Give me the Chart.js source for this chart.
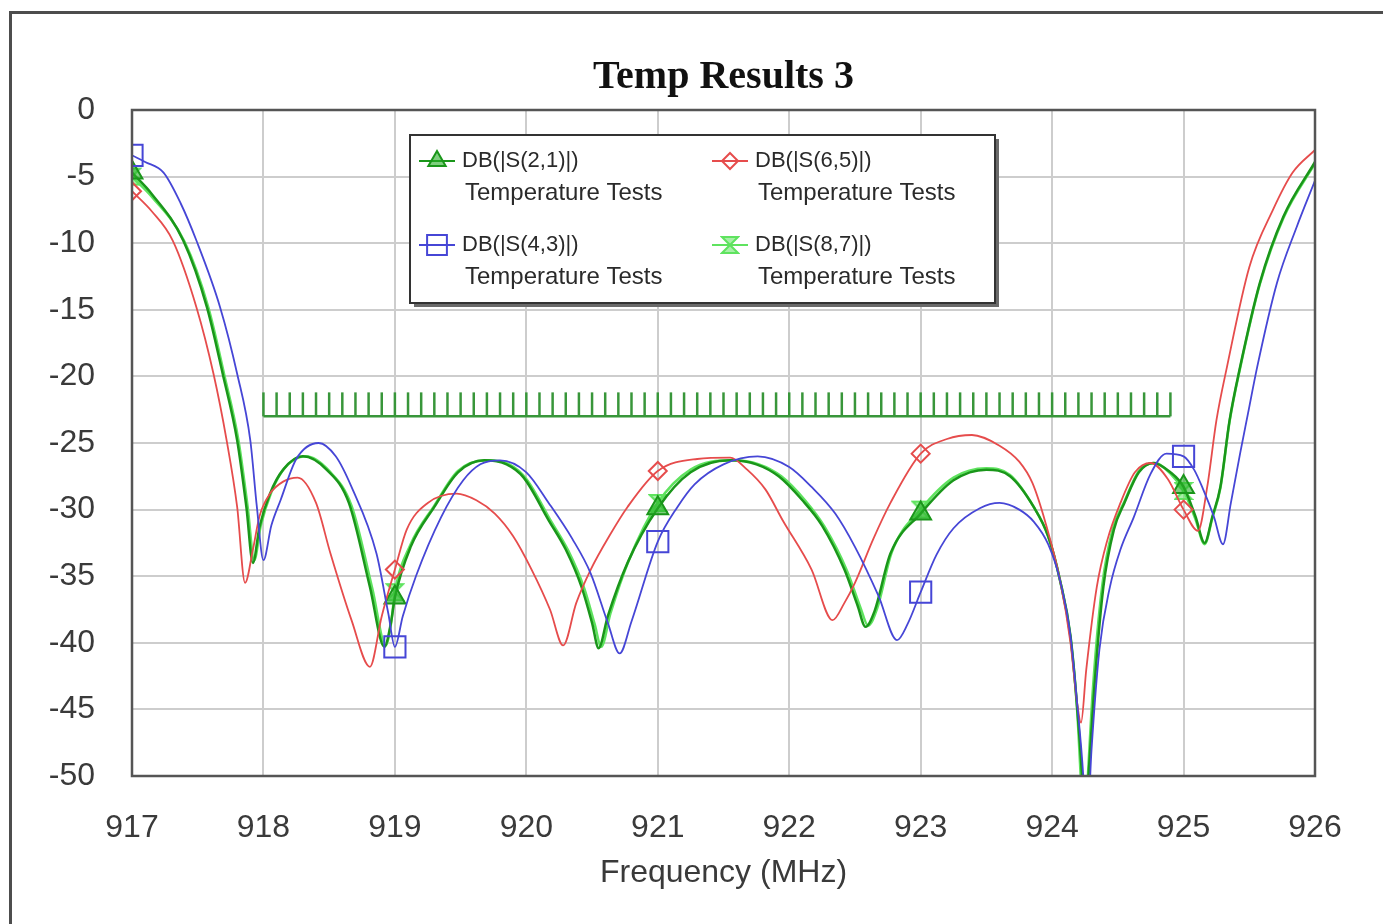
<!DOCTYPE html>
<html>
<head>
<meta charset="utf-8">
<script src="https://cdn.jsdelivr.net/npm/chart.js@4.4.0/dist/chart.umd.min.js"></script>
<style>
html, body { margin: 0; padding: 0; background: #fff; }
#wrap { width: 1383px; height: 924px; position: relative; }
</style>
</head>
<body>
<div id="wrap"><canvas id="tempChart"></canvas></div>
<script>
// frequencies where the measurement markers sit
var markerFreqs = [917, 919, 921, 923, 925];

// DB(|S(2,1)|)
var s21Freq = [917.00, 917.15, 917.39, 917.57, 917.69, 917.80, 917.87, 917.92, 917.97, 918.05, 918.15, 918.30, 918.48, 918.65, 918.81, 918.92, 918.97, 919.00, 919.12, 919.30, 919.48, 919.68, 919.85, 919.98, 920.17, 920.30, 920.42, 920.50, 920.55, 920.62, 920.77, 921.00, 921.25, 921.55, 921.75, 921.92, 922.10, 922.25, 922.42, 922.52, 922.58, 922.65, 922.77, 923.00, 923.25, 923.50, 923.68, 923.86, 923.97, 924.06, 924.14, 924.19, 924.23, 924.25, 924.28, 924.32, 924.39, 924.47, 924.55, 924.66, 924.77, 924.90, 925.00, 925.09, 925.16, 925.22, 925.28, 925.35, 925.43, 925.58, 925.76, 926.00];
var s21Db = [-4.7, -6.3, -9.8, -14.8, -19.8, -24.8, -29.8, -34.0, -31.3, -28.8, -27.0, -26.0, -27.0, -29.5, -35.8, -40.3, -38.5, -36.6, -32.8, -29.8, -27.2, -26.3, -26.6, -27.6, -30.8, -33.0, -35.8, -38.5, -40.4, -38.0, -34.0, -29.9, -27.2, -26.3, -26.6, -27.5, -29.3, -31.2, -34.5, -37.2, -38.8, -37.6, -33.3, -30.3, -27.8, -27.0, -27.5, -29.8, -32.0, -35.3, -39.5, -44.8, -50.5, -55.0, -49.5, -43.5, -35.8, -31.5, -29.5, -27.2, -26.5, -27.2, -28.3, -30.5, -32.5, -30.5, -28.3, -23.3, -19.3, -13.0, -8.0, -3.9];

// DB(|S(6,5)|)
var s65Freq = [917.00, 917.15, 917.31, 917.49, 917.62, 917.72, 917.80, 917.86, 917.92, 917.97, 918.05, 918.15, 918.26, 918.40, 918.51, 918.67, 918.81, 918.90, 919.00, 919.09, 919.25, 919.47, 919.62, 919.76, 919.90, 920.04, 920.18, 920.28, 920.38, 920.49, 920.63, 920.77, 921.00, 921.30, 921.55, 921.68, 921.82, 921.95, 922.17, 922.33, 922.42, 922.50, 922.64, 922.77, 923.00, 923.20, 923.39, 923.60, 923.75, 923.85, 923.95, 924.06, 924.14, 924.19, 924.22, 924.26, 924.34, 924.42, 924.52, 924.63, 924.75, 924.88, 925.00, 925.11, 925.18, 925.25, 925.33, 925.50, 925.68, 925.83, 926.00];
var s65Db = [-6.1, -7.6, -9.8, -14.8, -19.8, -24.8, -29.8, -35.5, -33.0, -30.5, -28.8, -27.9, -27.6, -29.5, -33.3, -38.3, -41.8, -38.0, -34.5, -31.5, -29.5, -28.8, -29.3, -30.3, -32.0, -34.5, -37.5, -40.2, -37.0, -34.5, -32.0, -29.8, -27.1, -26.2, -26.1, -27.0, -28.5, -30.8, -34.5, -38.3, -37.0, -35.5, -32.2, -29.5, -25.8, -24.7, -24.4, -25.2, -26.4, -28.0, -31.0, -35.3, -40.0, -44.5, -46.0, -42.0, -35.8, -32.3, -29.5, -27.2, -26.5, -27.7, -30.0, -31.6, -28.3, -23.3, -19.3, -11.8, -7.5, -4.7, -3.0];

// DB(|S(4,3)|)
var s43Freq = [917.00, 917.10, 917.24, 917.37, 917.49, 917.67, 917.80, 917.90, 917.95, 918.00, 918.06, 918.13, 918.25, 918.42, 918.55, 918.67, 918.86, 918.95, 919.00, 919.06, 919.16, 919.35, 919.52, 919.65, 919.80, 920.00, 920.17, 920.35, 920.49, 920.62, 920.71, 920.80, 921.00, 921.15, 921.28, 921.50, 921.76, 922.00, 922.17, 922.35, 922.50, 922.68, 922.82, 922.90, 923.00, 923.12, 923.25, 923.45, 923.60, 923.75, 923.86, 923.97, 924.06, 924.14, 924.19, 924.24, 924.26, 924.30, 924.36, 924.44, 924.52, 924.62, 924.75, 924.87, 925.00, 925.08, 925.15, 925.23, 925.30, 925.36, 925.43, 925.49, 925.56, 925.71, 925.86, 926.00];
var s43Db = [-3.4, -3.9, -4.7, -7.0, -9.8, -14.8, -19.8, -24.8, -29.8, -33.8, -31.2, -29.3, -26.2, -25.0, -26.0, -28.3, -33.3, -37.8, -40.3, -38.0, -35.0, -30.6, -27.8, -26.6, -26.3, -27.2, -29.5, -32.2, -34.8, -38.5, -40.8, -38.4, -32.4, -29.8, -28.1, -26.6, -26.0, -26.8, -28.3, -30.3, -32.8, -36.5, -39.8, -38.6, -36.2, -33.4, -31.4, -29.9, -29.5, -30.0, -30.9, -32.6, -35.3, -39.5, -44.5, -50.5, -55.0, -48.0, -40.5, -35.8, -33.0, -30.6, -27.3, -25.8, -26.0, -27.0, -28.5, -30.5, -32.6, -29.5, -25.8, -22.8, -19.3, -13.0, -8.8, -5.3];

// DB(|S(8,7)|)
var s87Freq = [917.00, 917.15, 917.40, 917.58, 917.70, 917.81, 917.88, 917.93, 917.98, 918.06, 918.16, 918.32, 918.50, 918.67, 918.83, 918.93, 918.97, 919.00, 919.12, 919.30, 919.48, 919.70, 919.87, 920.00, 920.19, 920.32, 920.44, 920.52, 920.57, 920.64, 920.78, 921.00, 921.25, 921.56, 921.77, 921.94, 922.12, 922.27, 922.44, 922.54, 922.60, 922.67, 922.78, 923.00, 923.25, 923.50, 923.68, 923.86, 923.97, 924.06, 924.14, 924.19, 924.22, 924.245, 924.275, 924.31, 924.38, 924.46, 924.55, 924.66, 924.78, 924.90, 925.00, 925.09, 925.16, 925.22, 925.28, 925.35, 925.43, 925.58, 925.76, 926.00];
var s87Db = [-5.0, -6.5, -9.9, -14.8, -19.8, -24.8, -29.8, -33.8, -31.2, -28.7, -26.9, -26.0, -27.1, -29.7, -36.0, -40.2, -38.6, -36.2, -32.6, -29.7, -27.1, -26.3, -26.6, -27.7, -30.9, -33.1, -35.9, -38.6, -40.3, -37.8, -33.8, -29.5, -27.0, -26.3, -26.6, -27.5, -29.3, -31.3, -34.6, -37.3, -38.7, -37.4, -33.2, -30.0, -27.6, -26.9, -27.4, -29.8, -32.0, -35.3, -39.6, -45.0, -50.5, -55.0, -49.5, -43.5, -35.8, -31.5, -29.4, -27.1, -26.5, -27.3, -28.6, -30.7, -32.6, -30.6, -28.4, -23.4, -19.4, -13.1, -8.1, -4.0];

// spec comb (MHz) drawn between two dB levels
var combFreqs = [918.0, 918.1, 918.2, 918.3, 918.4, 918.5, 918.6, 918.7, 918.8, 918.9,
  919.0, 919.1, 919.2, 919.3, 919.4, 919.5, 919.6, 919.7, 919.8, 919.9,
  920.0, 920.1, 920.2, 920.3, 920.4, 920.5, 920.6, 920.7, 920.8, 920.9,
  921.0, 921.1, 921.2, 921.3, 921.4, 921.5, 921.6, 921.7, 921.8, 921.9,
  922.0, 922.1, 922.2, 922.3, 922.4, 922.5, 922.6, 922.7, 922.8, 922.9,
  923.0, 923.1, 923.2, 923.3, 923.4, 923.5, 923.6, 923.7, 923.8, 923.9,
  924.0, 924.1, 924.2, 924.3, 924.4, 924.5, 924.6, 924.7, 924.8, 924.9];
var combTop = -21.2;
var combBase = -23.0;

var seriesLabels = ['DB(|S(2,1)|)', 'DB(|S(6,5)|)', 'DB(|S(4,3)|)', 'DB(|S(8,7)|)'];
var seriesNote = 'Temperature Tests';

var darkGreen = '#1a961a';
var lightGreen = '#5fe35f';
var red = '#e64c4c';
var blue = '#4646d6';
var combColor = '#38963a';
var sansFont = '"Liberation Sans", Arial, sans-serif';

function toPoints(freqs, dbs) {
  return freqs.map(function(f, i) { return { x: f, y: dbs[i] }; });
}

function markerRadius(r) {
  return function(ctx) {
    var p = ctx.raw;
    return p && markerFreqs.indexOf(p.x) >= 0 ? r : 0;
  };
}

function makeHourglass(stroke, fill, s) {
  var c = document.createElement('canvas');
  c.width = s; c.height = s;
  var g = c.getContext('2d');
  g.beginPath();
  g.moveTo(2, 2); g.lineTo(s - 2, 2); g.lineTo(2, s - 2); g.lineTo(s - 2, s - 2);
  g.closePath();
  g.fillStyle = fill; g.fill();
  g.lineWidth = 2; g.strokeStyle = stroke; g.stroke();
  return c;
}
var hourglass = makeHourglass(lightGreen, 'rgba(95,227,95,0.55)', 20);

function curve(label, freqs, dbs, color, width, style, radius, fill, order) {
  return {
    label: label,
    data: toPoints(freqs, dbs),
    borderColor: color,
    borderWidth: width,
    cubicInterpolationMode: 'monotone',
    pointStyle: style,
    pointRadius: markerRadius(radius),
    pointBorderColor: color,
    pointBackgroundColor: fill,
    pointBorderWidth: 2,
    order: order
  };
}

var curveSets = [
  curve(seriesLabels[0], s21Freq, s21Db, darkGreen, 2.5, 'triangle', 12, 'rgba(40,175,40,0.6)', 2),
  curve(seriesLabels[1], s65Freq, s65Db, red, 1.8, 'rectRot', 9, 'rgba(255,255,255,0)', 1),
  curve(seriesLabels[2], s43Freq, s43Db, blue, 1.8, 'rect', 15, 'rgba(255,255,255,0)', 0),
  curve(seriesLabels[3], s87Freq, s87Db, lightGreen, 2.5, hourglass, 10, lightGreen, 3)
];

var combTicks = {
  label: 'comb',
  data: combFreqs.map(function(f) { return { x: f, y: (combTop + combBase) / 2 }; }),
  showLine: false,
  pointStyle: 'line',
  rotation: 90,
  pointRadius: 12,
  pointBorderColor: combColor,
  pointBorderWidth: 2.5,
  order: 4
};
var combLine = {
  label: 'comb base',
  data: [{ x: combFreqs[0], y: combBase }, { x: combFreqs[combFreqs.length - 1], y: combBase }],
  borderColor: combColor,
  borderWidth: 2.5,
  pointRadius: 0,
  order: 4
};

function drawMarker(ctx, style, x, y, r, color, fill) {
  ctx.save();
  ctx.lineWidth = 2; ctx.strokeStyle = color; ctx.fillStyle = fill;
  if (typeof style !== 'string') {
    ctx.drawImage(style, x - style.width / 2, y - style.height / 2);
    ctx.restore();
    return;
  }
  ctx.beginPath();
  if (style === 'triangle') {
    ctx.moveTo(x, y - r);
    ctx.lineTo(x + r * 0.866, y + r * 0.5);
    ctx.lineTo(x - r * 0.866, y + r * 0.5);
  } else if (style === 'rectRot') {
    ctx.moveTo(x, y - r); ctx.lineTo(x + r, y); ctx.lineTo(x, y + r); ctx.lineTo(x - r, y);
  } else {
    var s = r * Math.SQRT1_2;
    ctx.rect(x - s, y - s, 2 * s, 2 * s);
  }
  ctx.closePath();
  ctx.fill(); ctx.stroke();
  ctx.restore();
}

var framePlugin = {
  id: 'frame',
  beforeDraw: function(chart) {
    var ctx = chart.ctx;
    ctx.save();
    ctx.fillStyle = '#ffffff';
    ctx.fillRect(0, 0, chart.width, chart.height);
    ctx.strokeStyle = '#4d4d4d';
    ctx.lineWidth = 3;
    ctx.strokeRect(10.5, 12.5, chart.width + 20, chart.height + 20);
    ctx.restore();
  },
  afterDraw: function(chart) {
    var ctx = chart.ctx, a = chart.chartArea;
    ctx.save();
    ctx.strokeStyle = '#555555';
    ctx.lineWidth = 2.5;
    ctx.strokeRect(a.left, a.top, a.right - a.left, a.bottom - a.top);

    // legend box with drop shadow
    var bx = 410, by = 135, bw = 585, bh = 168;
    ctx.fillStyle = '#6a6a6a';
    ctx.fillRect(bx + 4, by + 4, bw, bh);
    ctx.fillStyle = '#ffffff';
    ctx.fillRect(bx, by, bw, bh);
    ctx.strokeStyle = '#333333';
    ctx.lineWidth = 2;
    ctx.strokeRect(bx, by, bw, bh);

    var cols = [419, 712];
    var rows = [161, 245];
    ctx.textBaseline = 'middle';
    ctx.textAlign = 'left';
    chart.data.datasets.slice(0, 4).forEach(function(ds, i) {
      var x0 = cols[i % 2], y0 = rows[Math.floor(i / 2)];
      ctx.strokeStyle = ds.borderColor;
      ctx.lineWidth = 2;
      ctx.beginPath(); ctx.moveTo(x0, y0); ctx.lineTo(x0 + 36, y0); ctx.stroke();
      var r = ds.pointStyle === 'rect' ? 14 : (ds.pointStyle === 'triangle' ? 10 : 8);
      drawMarker(ctx, ds.pointStyle, x0 + 18, y0, r, ds.borderColor, ds.pointBackgroundColor);
      ctx.fillStyle = '#2a2a2a';
      ctx.font = '22px ' + sansFont;
      ctx.fillText(ds.label, x0 + 43, y0);
      ctx.font = '24px ' + sansFont;
      ctx.fillText(seriesNote, x0 + 46, y0 + 32);
    });
    ctx.restore();
  }
};

var tickFont = { family: sansFont, size: 32 };

new Chart(document.getElementById('tempChart').getContext('2d'), {
  type: 'line',
  data: { datasets: curveSets.concat([combTicks, combLine]) },
  options: {
    responsive: true,
    maintainAspectRatio: false,
    animation: false,
    events: [],
    layout: { padding: { left: 10, right: 68, top: 12, bottom: 0 } },
    plugins: {
      legend: { display: false },
      tooltip: { enabled: false },
      title: {
        display: true,
        fullSize: false,
        text: 'Temp Results 3',
        color: '#111111',
        font: { family: '"Liberation Serif", "Times New Roman", serif', size: 40, weight: 'bold' },
        padding: { top: 42, bottom: 8 }
      }
    },
    scales: {
      x: {
        type: 'linear',
        min: 917,
        max: 926,
        ticks: { stepSize: 1, color: '#3a3a3a', font: tickFont, padding: 33 },
        grid: { color: '#cdcdcd', lineWidth: 2, drawTicks: false },
        border: { display: false },
        title: { display: true, text: 'Frequency (MHz)', color: '#3a3a3a', font: tickFont, padding: { top: 0, bottom: 32 } },
        afterFit: function(scale) { scale.height = 148; }
      },
      y: {
        min: -50,
        max: 0,
        ticks: { stepSize: 5, color: '#3a3a3a', font: tickFont, padding: 37 },
        grid: { color: '#cdcdcd', lineWidth: 2, drawTicks: false },
        border: { display: false },
        afterFit: function(scale) { scale.width = 122; }
      }
    }
  },
  plugins: [framePlugin]
});
</script>
</body>
</html>
